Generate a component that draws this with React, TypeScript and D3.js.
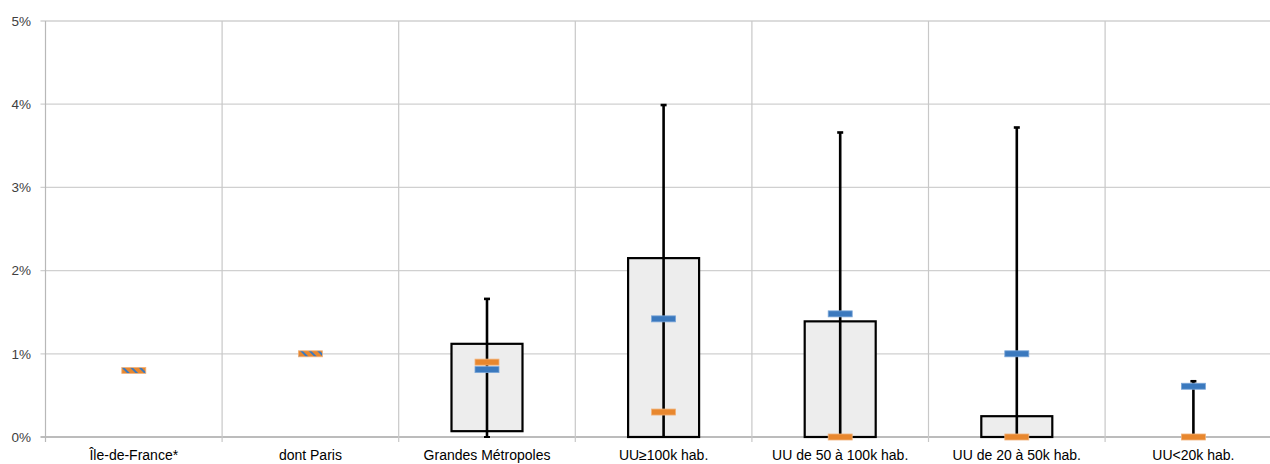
import React from "react";
import * as d3 from "d3";

const categories = [
  "Île-de-France*",
  "dont Paris",
  "Grandes Métropoles",
  "UU≥100k hab.",
  "UU de 50 à 100k hab.",
  "UU de 20 à 50k hab.",
  "UU<20k hab.",
];
// box-plot values in % (null = no box)
const boxLow: (number | null)[] = [null, null, 0.07, 0, 0, 0, 0];
const boxHigh: (number | null)[] = [null, null, 1.12, 2.15, 1.39, 0.25, 0];
const whiskerLow: (number | null)[] = [null, null, 0, 0, 0, 0, 0];
const whiskerHigh: (number | null)[] = [null, null, 1.66, 3.99, 3.66, 3.72, 0.67];
const blueValues = [0.8, 1.0, 0.81, 1.42, 1.48, 1.0, 0.61];
const orangeValues = [0.8, 1.0, 0.9, 0.3, 0, 0, 0];
const yTicks = [0, 1, 2, 3, 4, 5];

const W = 1270;
const H = 464;
const left = 45.5;
const step = 176.6;
const top = 21;
const bottom = 437;

const BLUE = "#3b79be";
const BLUE_EDGE = "#7aa6d8";
const ORANGE = "#e8872e";
const ORANGE_EDGE = "#f2b27a";
const FONT = "'Liberation Sans', Arial, sans-serif";

export default function App() {
  const x = d3
    .scaleBand<string>()
    .domain(categories)
    .range([left, left + step * categories.length])
    .padding(0);
  const y = d3.scaleLinear().domain([0, 5]).range([bottom, top]);
  const boxW = 71;
  const mW = 24;
  const mH = 6;
  const capW = 6;

  const boundaries = d3.range(categories.length + 1).map((i) => left + i * x.bandwidth());

  return (
    <svg
      width={W}
      height={H}
      style={{ position: "absolute", left: 0, top: 0, background: "#fff" }}
      fontFamily={FONT}
    >
      <defs>
        <pattern id="stripe" patternUnits="userSpaceOnUse" width="6" height="6" patternTransform="rotate(-45)">
          <rect width="6" height="6" fill={ORANGE} />
          <rect width="2" height="6" fill={BLUE} />
        </pattern>
      </defs>
      {/* horizontal gridlines */}
      {yTicks.map((t) => (
        <g key={t}>
          <line x1={left - 5} x2={W} y1={y(t)} y2={y(t)} stroke={t === 0 ? "#a6a6a6" : "#d0d0d0"} strokeWidth={1.3} />
          <text x={31} y={y(t)} dy="0.35em" textAnchor="end" fontSize={13.5} fill="#404040">
            {t}%
          </text>
        </g>
      ))}
      {/* vertical category dividers */}
      {boundaries.map((b, i) => (
        <line key={i} x1={b} x2={b} y1={top} y2={bottom + 5} stroke={i === 0 ? "#b8b8b8" : "#c8c8c8"} strokeWidth={1.2} />
      ))}
      {/* boxes */}
      {categories.map((c, i) => {
        const lo = boxLow[i];
        const hi = boxHigh[i];
        if (lo === null || hi === null) return null;
        const cx = x(c)! + x.bandwidth() / 2;
        return (
          <rect
            key={c}
            x={cx - boxW / 2}
            y={y(hi)}
            width={boxW}
            height={Math.max(0, y(lo) - y(hi))}
            fill="#ededed"
            stroke="#000"
            strokeWidth={2.2}
          />
        );
      })}
      {/* whiskers */}
      {categories.map((c, i) => {
        const lo = whiskerLow[i];
        const hi = whiskerHigh[i];
        if (lo === null || hi === null) return null;
        const cx = x(c)! + x.bandwidth() / 2;
        return (
          <g key={c} stroke="#000">
            <line x1={cx} x2={cx} y1={y(lo)} y2={y(hi)} strokeWidth={2.6} />
            <line x1={cx - capW / 2} x2={cx + capW / 2} y1={y(hi)} y2={y(hi)} strokeWidth={2.6} />
            <line x1={cx - capW / 2} x2={cx + capW / 2} y1={y(lo)} y2={y(lo)} strokeWidth={2} />
          </g>
        );
      })}
      {/* markers */}
      {categories.map((c, i) => {
        const cx = x(c)! + x.bandwidth() / 2;
        const same = blueValues[i] === orangeValues[i];
        if (same) {
          return (
            <rect
              key={c}
              x={cx - mW / 2}
              y={y(blueValues[i]) - mH / 2}
              width={mW}
              height={mH}
              fill="url(#stripe)"
              stroke={ORANGE_EDGE}
              strokeWidth={0.8}
            />
          );
        }
        return (
          <g key={c}>
            <rect
              x={cx - mW / 2}
              y={y(orangeValues[i]) - mH / 2}
              width={mW}
              height={mH}
              fill={ORANGE}
              stroke={ORANGE_EDGE}
              strokeWidth={0.8}
            />
            <rect
              x={cx - mW / 2}
              y={y(blueValues[i]) - mH / 2}
              width={mW}
              height={mH}
              fill={BLUE}
              stroke={BLUE_EDGE}
              strokeWidth={0.8}
            />
          </g>
        );
      })}
      {/* x labels */}
      {categories.map((c) => (
        <text
          key={c}
          x={x(c)! + x.bandwidth() / 2}
          y={460}
          textAnchor="middle"
          fontSize={14}
          fill="#000"
        >
          {c}
        </text>
      ))}
    </svg>
  );
}
